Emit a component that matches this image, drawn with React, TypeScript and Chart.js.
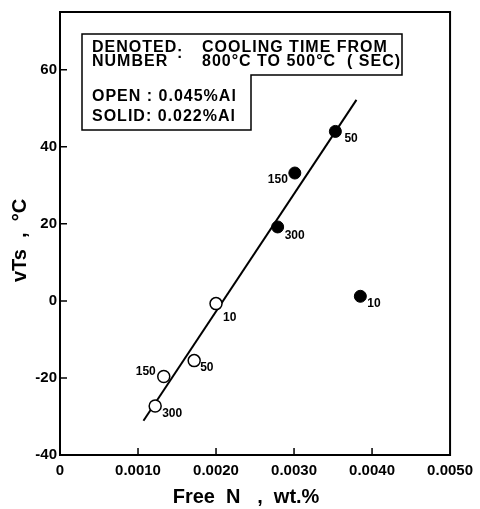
import React, { useEffect, useRef } from 'react';
import { Chart, registerables } from 'chart.js';

Chart.register(...registerables);

// ---- data ----
const openX = [0.002, 0.00172, 0.00133, 0.00122];
const openY = [-0.7, -15.5, -19.6, -27.3];
const openLabels = ['10', '50', '150', '300'];

const solidX = [0.00353, 0.00301, 0.00279, 0.00385];
const solidY = [44.0, 33.2, 19.2, 1.2];
const solidLabels = ['50', '150', '300', '10'];

const fitX = [0.00107, 0.0038];
const fitY = [-31.1, 52.2];

const xTicks = [0, 0.001, 0.002, 0.003, 0.004, 0.005];
const yTicks = [-40, -20, 0, 20, 40, 60];
const xRange = [0, 0.005];
const yRange = [-40, 75];

const xTitle = 'Free  N   ,  wt.%';
const yTitle = 'vTs  ,  °C';
const noteRow1 = ['DENOTED', ':', 'COOLING TIME FROM'];
const noteRow2 = ['NUMBER', '800°C TO 500°C  ( SEC)'];
const noteRow3 = 'OPEN : 0.045%Al';
const noteRow4 = 'SOLID: 0.022%Al';

// ---- layout / style ----
const FONT = '"Liberation Sans", Arial, sans-serif';
const openOffsets: [number, number, CanvasTextAlign][] = [
  [7, 14, 'left'],
  [6, 7, 'left'],
  [-8, -5, 'right'],
  [7, 8, 'left'],
];
const solidOffsets: [number, number, CanvasTextAlign][] = [
  [9, 7, 'left'],
  [-7, 7, 'right'],
  [7, 9, 'left'],
  [7, 7, 'left'],
];

const decorPlugin = {
  id: 'decor',
  afterDraw(chart: any) {
    const { ctx, chartArea: ca, scales } = chart;
    const xs = scales.x;
    const ys = scales.y;
    ctx.save();
    // frame
    ctx.strokeStyle = '#000';
    ctx.lineWidth = 2;
    ctx.strokeRect(ca.left, ca.top, ca.right - ca.left, ca.bottom - ca.top);
    // inward ticks
    ctx.lineWidth = 1.5;
    ctx.beginPath();
    yTicks.forEach((v) => {
      if (v === yRange[0]) return;
      const y = ys.getPixelForValue(v);
      ctx.moveTo(ca.left, y);
      ctx.lineTo(ca.left + 7, y);
    });
    xTicks.forEach((v) => {
      if (v === xRange[0] || v === xRange[1]) return;
      const x = xs.getPixelForValue(v);
      ctx.moveTo(x, ca.bottom);
      ctx.lineTo(x, ca.bottom - 7);
    });
    ctx.stroke();

    // point labels
    ctx.fillStyle = '#000';
    ctx.font = `bold 12px ${FONT}`;
    ctx.textBaseline = 'middle';
    const drawLabels = (dsIndex: number, labels: string[], offs: [number, number, CanvasTextAlign][]) => {
      const meta = chart.getDatasetMeta(dsIndex);
      meta.data.forEach((el: any, i: number) => {
        const [dx, dy, al] = offs[i];
        ctx.textAlign = al;
        ctx.fillText(labels[i], el.x + dx, el.y + dy);
      });
    };
    drawLabels(0, openLabels, openOffsets);
    drawLabels(1, solidLabels, solidOffsets);

    // note box
    const L = ca.left + 22;
    const T = ca.top + 22;
    const R = ca.left + 342;
    const N = ca.top + 63;
    const NX = ca.left + 191;
    const B = ca.top + 118;
    ctx.lineWidth = 1.5;
    ctx.beginPath();
    ctx.moveTo(L, T);
    ctx.lineTo(R, T);
    ctx.lineTo(R, N);
    ctx.lineTo(NX, N);
    ctx.lineTo(NX, B);
    ctx.lineTo(L, B);
    ctx.closePath();
    ctx.stroke();

    ctx.textAlign = 'left';
    ctx.textBaseline = 'alphabetic';
    ctx.font = `bold 16px ${FONT}`;
    (ctx as any).letterSpacing = '1px';
    ctx.fillText(noteRow1[0], L + 10, T + 18);
    ctx.fillText(noteRow1[1], L + 95, T + 24);
    ctx.fillText(noteRow1[2], L + 120, T + 18);
    ctx.fillText(noteRow2[0], L + 10, T + 32);
    ctx.fillText(noteRow2[1], L + 120, T + 32);
    ctx.fillText(noteRow3, L + 10, T + 67);
    ctx.fillText(noteRow4, L + 10, T + 87);
    (ctx as any).letterSpacing = '0px';

    // axis titles
    ctx.font = `bold 20px ${FONT}`;
    ctx.textAlign = 'center';
    ctx.textBaseline = 'alphabetic';
    ctx.fillText(xTitle, (ca.left + ca.right) / 2 - 9, chart.height - 6);
    ctx.translate(26, (ca.top + ca.bottom) / 2 + 7);
    ctx.rotate(-Math.PI / 2);
    ctx.fillText(yTitle, 0, 0);
    ctx.restore();
  },
};

export default function App() {
  const ref = useRef<HTMLCanvasElement | null>(null);
  useEffect(() => {
    if (!ref.current) return;
    const chart = new Chart(ref.current, {
      type: 'scatter',
      data: {
        datasets: [
          {
            label: 'open',
            data: openX.map((x, i) => ({ x, y: openY[i] })),
            pointStyle: 'circle',
            pointRadius: 6,
            pointBackgroundColor: '#fff',
            pointBorderColor: '#000',
            pointBorderWidth: 1.5,
            showLine: false,
          },
          {
            label: 'solid',
            data: solidX.map((x, i) => ({ x, y: solidY[i] })),
            pointStyle: 'circle',
            pointRadius: 6,
            pointBackgroundColor: '#000',
            pointBorderColor: '#000',
            pointBorderWidth: 1,
            showLine: false,
          },
          {
            label: 'fit',
            data: fitX.map((x, i) => ({ x, y: fitY[i] })),
            showLine: true,
            borderColor: '#000',
            borderWidth: 2,
            pointRadius: 0,
            fill: false,
          },
        ],
      },
      options: {
        responsive: false,
        animation: false,
        devicePixelRatio: 1,
        layout: { padding: { top: 8, right: 29, left: 0, bottom: 0 } },
        plugins: {
          legend: { display: false },
          tooltip: { enabled: false },
        },
        scales: {
          x: {
            type: 'linear',
            min: xRange[0],
            max: xRange[1],
            afterBuildTicks: (s: any) => {
              s.ticks = xTicks.map((v) => ({ value: v }));
            },
            afterFit: (s: any) => {
              s.height = 54;
            },
            grid: { display: false, drawTicks: false },
            border: { display: true, color: '#000', width: 2 },
            ticks: {
              color: '#000',
              padding: 7,
              maxRotation: 0,
              autoSkip: false,
              font: { family: FONT, size: 15, weight: 'bold' },
              callback: (v: any) => (v === 0 ? '0' : Number(v).toFixed(4)),
            },
          },
          y: {
            type: 'linear',
            min: yRange[0],
            max: yRange[1],
            afterBuildTicks: (s: any) => {
              s.ticks = yTicks.map((v) => ({ value: v }));
            },
            afterFit: (s: any) => {
              s.width = 60;
            },
            grid: { display: false, drawTicks: false },
            border: { display: true, color: '#000', width: 2 },
            ticks: {
              color: '#000',
              padding: 3,
              autoSkip: false,
              font: { family: FONT, size: 15, weight: 'bold' },
              callback: (v: any) => String(v),
            },
          },
        },
      },
      plugins: [decorPlugin],
    });
    return () => chart.destroy();
  }, []);
  return (
    <div style={{ position: 'fixed', left: 0, top: 0, width: 480, height: 509, background: '#fff' }}>
      <canvas ref={ref} width={480} height={509} style={{ display: 'block' }} />
    </div>
  );
}
